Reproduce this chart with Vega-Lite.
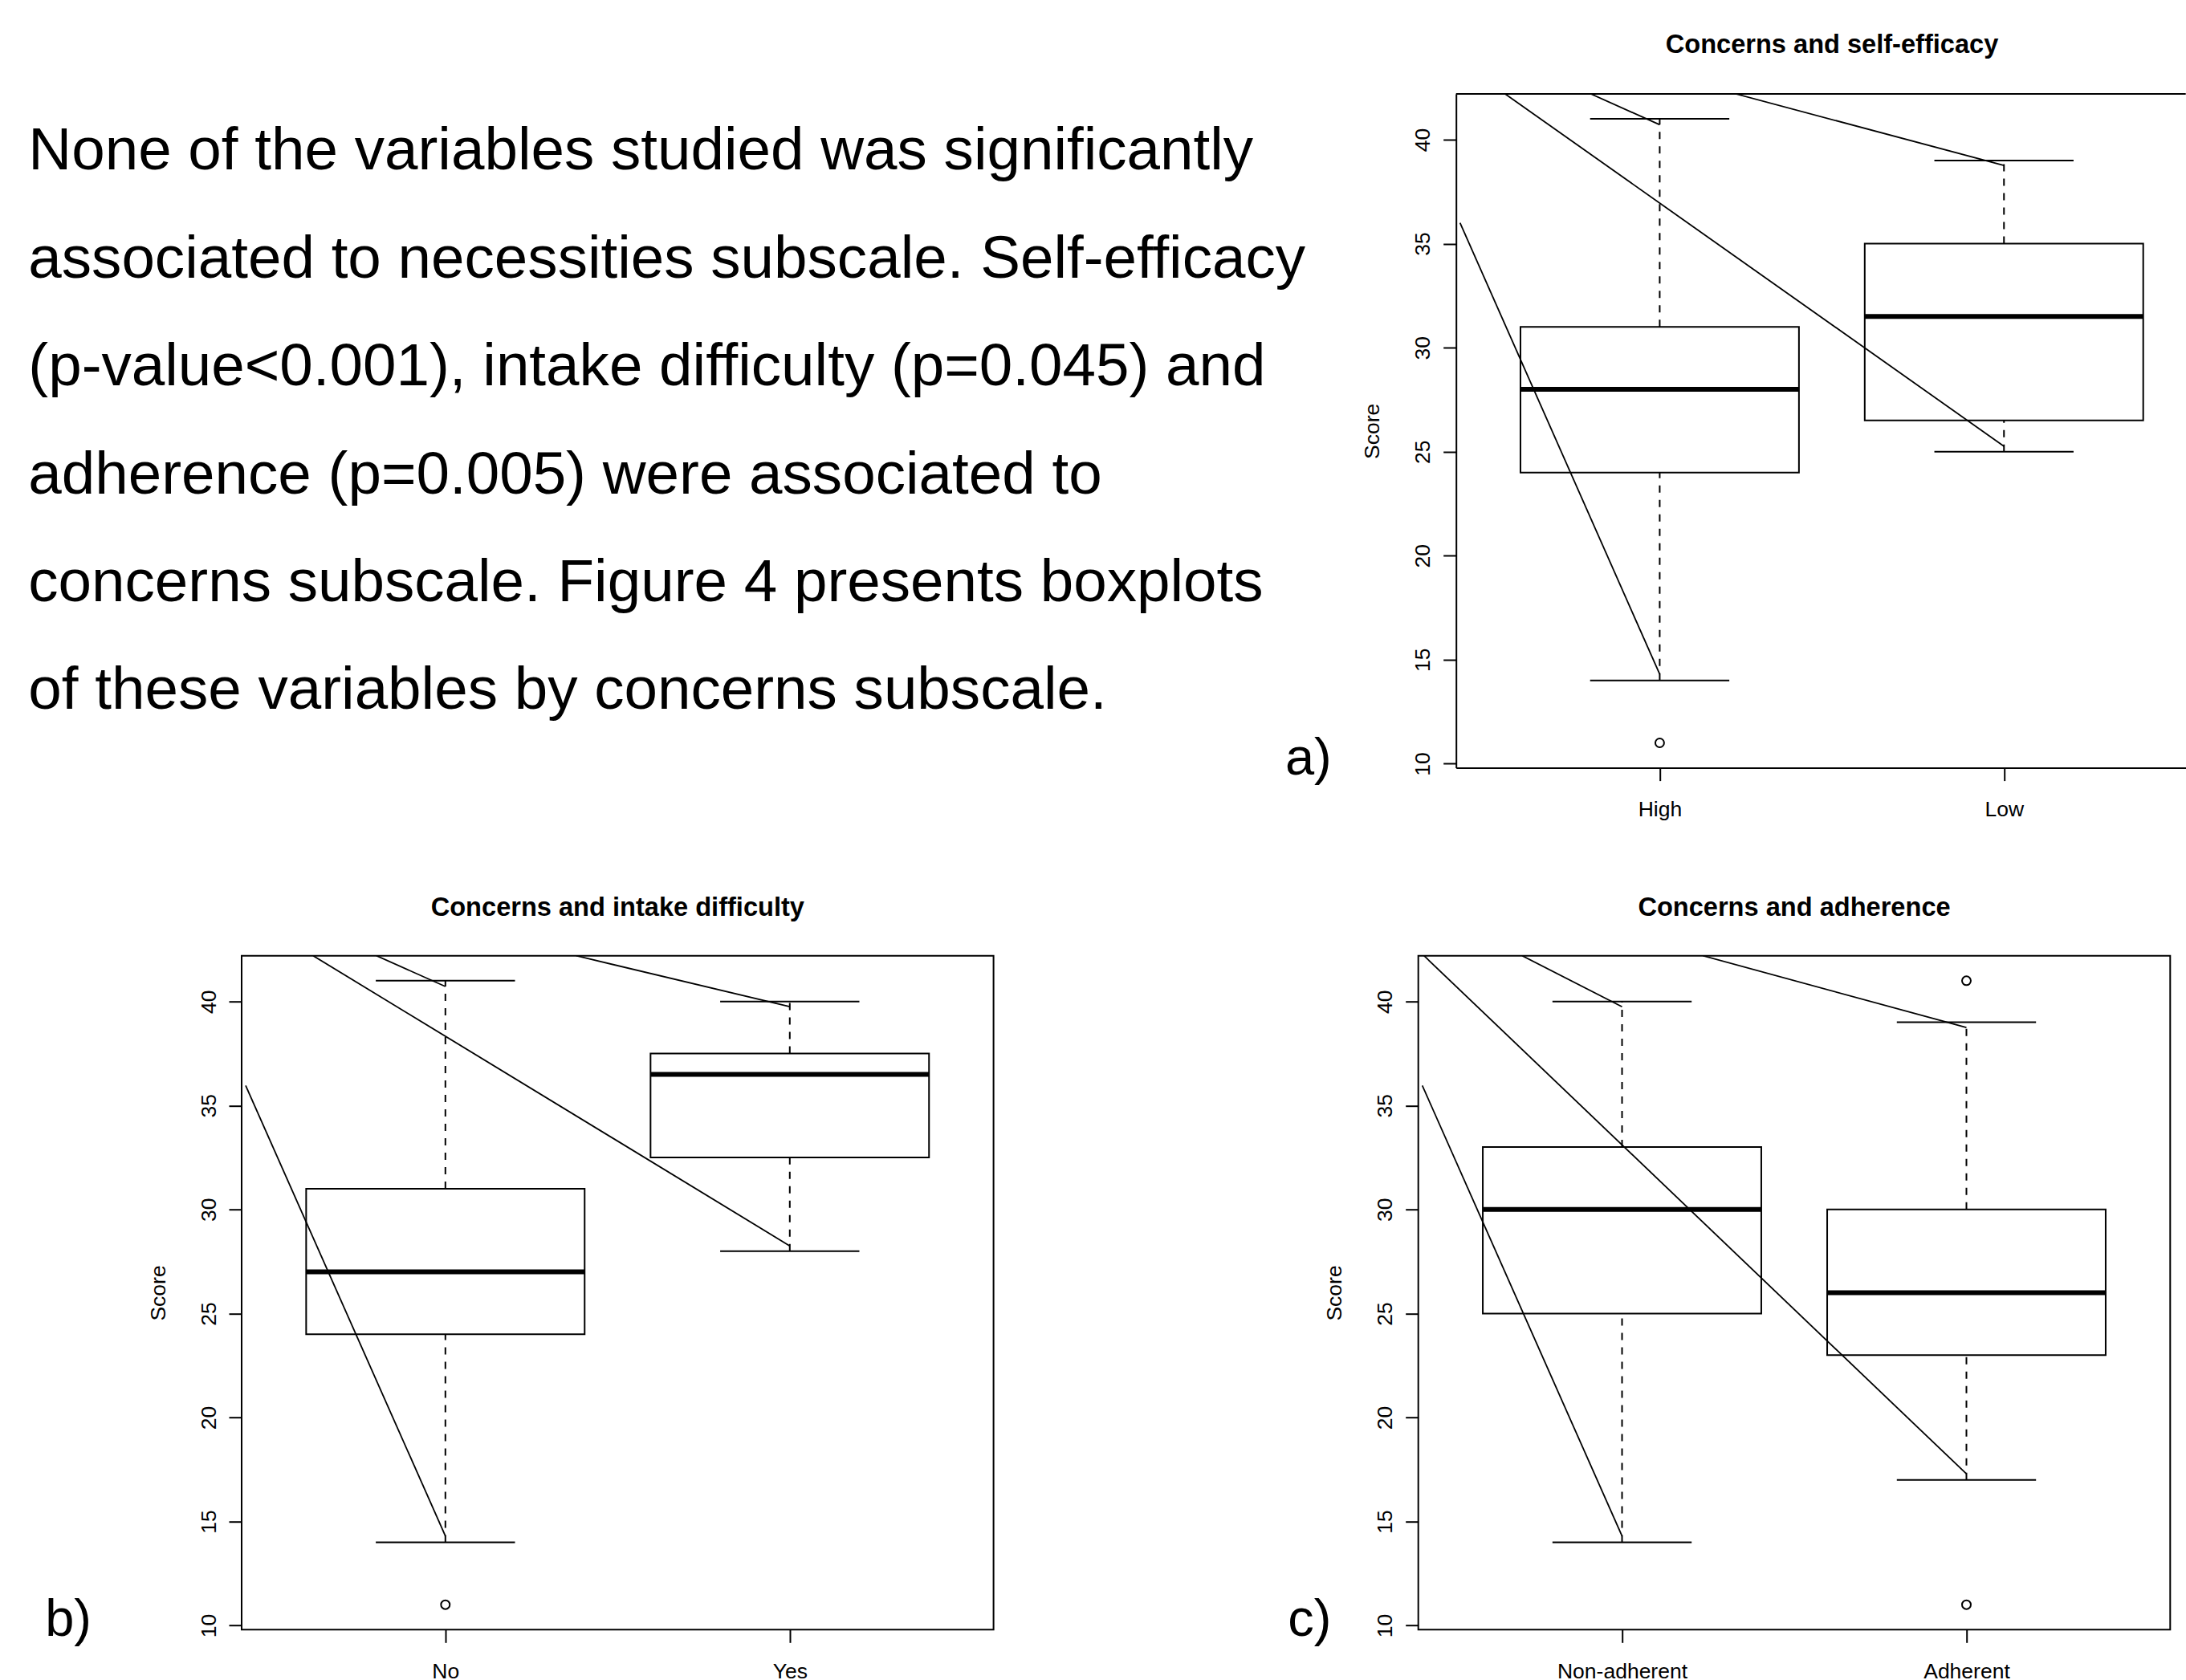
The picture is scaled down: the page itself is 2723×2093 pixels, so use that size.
{
  "$schema": "https://vega.github.io/schema/vega-lite/v6.json",
  "background": "white",
  "autosize": {"type": "pad"},
  "padding": {"left": 35, "top": 40, "right": 0, "bottom": 0},
  "config": {
    "font": "Liberation Sans",
    "view": {"stroke": "black", "strokeWidth": 2},
    "title": {"font": "Liberation Sans", "fontSize": 32.6, "fontWeight": "bold", "color": "black"},
    "axis": {
      "grid": false, "domain": false, "labelFont": "Liberation Sans", "labelFontSize": 26.5, "labelColor": "black",
      "tickColor": "black", "tickWidth": 2, "tickSize": 16, "labelFlush": false, "labelOverlap": false,
      "titleFont": "Liberation Sans", "titleFontSize": 26.5, "titleFontWeight": "normal", "titleColor": "black"
    },
    "axisX": {"labelBaseline": "alphabetic", "labelPadding": 44, "labelAngle": 0},
    "axisY": {"labelAngle": -90, "labelAlign": "center", "labelBaseline": "alphabetic", "labelPadding": 17, "titleBaseline": "alphabetic", "titleAngle": -90, "titlePadding": 42}
  },
  "datasets": {
    "text": [
      {"line": 1, "text": "None of the variables studied was significantly"},
      {"line": 2, "text": "associated to necessities subscale. Self-efficacy"},
      {"line": 3, "text": "(p-value<0.001), intake difficulty (p=0.045) and"},
      {"line": 4, "text": "adherence (p=0.005) were associated to"},
      {"line": 5, "text": "concerns subscale. Figure 4 presents boxplots"},
      {"line": 6, "text": "of these variables by concerns subscale."}
    ],
    "boxes": [
      {"panel": "a", "gx": 1, "lower": 14, "q1": 24, "median": 28, "q3": 31, "upper": 41},
      {"panel": "a", "gx": 2, "lower": 25, "q1": 26.5, "median": 31.5, "q3": 35, "upper": 39},
      {"panel": "b", "gx": 1, "lower": 14, "q1": 24, "median": 27, "q3": 31, "upper": 41},
      {"panel": "b", "gx": 2, "lower": 28, "q1": 32.5, "median": 36.5, "q3": 37.5, "upper": 40},
      {"panel": "c", "gx": 1, "lower": 14, "q1": 25, "median": 30, "q3": 33, "upper": 40},
      {"panel": "c", "gx": 2, "lower": 17, "q1": 23, "median": 26, "q3": 30, "upper": 39}
    ],
    "outliers": [
      {"panel": "a", "gx": 1, "score": 11},
      {"panel": "b", "gx": 1, "score": 11},
      {"panel": "c", "gx": 2, "score": 41},
      {"panel": "c", "gx": 2, "score": 11}
    ],
    "segments": [
      {"panel": "a", "seg": 1, "gx": 0.42, "score": 36.0},
      {"panel": "a", "seg": 1, "gx": 1, "score": 14.3},
      {"panel": "a", "seg": 2, "gx": 0.551, "score": 42.2},
      {"panel": "a", "seg": 2, "gx": 2, "score": 25.26},
      {"panel": "a", "seg": 3, "gx": 0.8, "score": 42.2},
      {"panel": "a", "seg": 3, "gx": 1, "score": 40.72},
      {"panel": "a", "seg": 4, "gx": 1.221, "score": 42.2},
      {"panel": "a", "seg": 4, "gx": 2, "score": 38.76},
      {"panel": "b", "seg": 1, "gx": 0.42, "score": 35.96},
      {"panel": "b", "seg": 1, "gx": 1, "score": 14.3},
      {"panel": "b", "seg": 2, "gx": 0.616, "score": 42.2},
      {"panel": "b", "seg": 2, "gx": 2, "score": 28.25},
      {"panel": "b", "seg": 3, "gx": 0.8, "score": 42.2},
      {"panel": "b", "seg": 3, "gx": 1, "score": 40.72},
      {"panel": "b", "seg": 4, "gx": 1.38, "score": 42.2},
      {"panel": "b", "seg": 4, "gx": 2, "score": 39.75},
      {"panel": "c", "seg": 1, "gx": 0.42, "score": 35.96},
      {"panel": "c", "seg": 1, "gx": 1, "score": 14.3},
      {"panel": "c", "seg": 2, "gx": 0.425, "score": 42.2},
      {"panel": "c", "seg": 2, "gx": 2, "score": 17.29},
      {"panel": "c", "seg": 3, "gx": 0.71, "score": 42.2},
      {"panel": "c", "seg": 3, "gx": 1, "score": 39.75},
      {"panel": "c", "seg": 4, "gx": 1.235, "score": 42.2},
      {"panel": "c", "seg": 4, "gx": 2, "score": 38.75}
    ]
  },
  "bounds": "flush",
  "spacing": 1073.7,
  "vconcat": [
    {
      "bounds": "flush",
      "spacing": 528.7,
      "hconcat": [
        {
          "width": 983.6, "height": 839.6,
          "view": {"stroke": null},
          "data": {"name": "text"},
          "mark": {"type": "text", "fontSize": 74.6, "align": "left", "baseline": "alphabetic", "color": "black", "font": "Liberation Sans"},
          "encoding": {
            "x": {"datum": 0, "type": "quantitative", "scale": {"domain": [0.16637, 0.78227], "nice": false, "zero": false}, "axis": null},
            "y": {"field": "line", "type": "quantitative", "scale": {"domain": [0.3011, 6.5435], "reverse": true, "nice": false, "zero": false}, "axis": null},
            "text": {"field": "text"}
          }
        },
        {
          "width": 909, "height": 839.6,
          "view": {"stroke": null},
          "title": {"text": "Concerns and self-efficacy", "frame": "group", "offset": 17, "baseline": "alphabetic", "dx": 13.8},
          "layer": [
            {"data": {"name": "boxes"}, "transform": [{"filter": "datum.panel == 'a'"}],
             "mark": {"type": "rule", "strokeDash": [9, 9], "strokeWidth": 2, "color": "black"},
             "encoding": {
               "x": {"field": "gx", "type": "quantitative", "scale": {"domain": [0.42, 2.5164], "nice": false, "zero": false}, "axis": {"values": [1, 2], "labelExpr": "datum.value == 1 ? 'High' : 'Low'", "title": null, "domain": true, "domainColor": "black", "domainWidth": 2}},
               "y": {"field": "lower", "type": "quantitative", "title": "Score", "scale": {"domain": [9.8, 42.2], "nice": false, "zero": false}, "axis": {"values": [10, 15, 20, 25, 30, 35, 40], "domain": true, "domainColor": "black", "domainWidth": 2}},
               "y2": {"field": "q1"}}},
            {"data": {"name": "boxes"}, "transform": [{"filter": "datum.panel == 'a'"}],
             "mark": {"type": "rule", "strokeDash": [9, 9], "strokeWidth": 2, "color": "black"},
             "encoding": {
               "x": {"field": "gx", "type": "quantitative", "scale": {"domain": [0.42, 2.5164], "nice": false, "zero": false}, "axis": {"values": [1, 2], "labelExpr": "datum.value == 1 ? 'High' : 'Low'", "title": null, "domain": true, "domainColor": "black", "domainWidth": 2}},
               "y": {"field": "q3", "type": "quantitative", "title": "Score", "scale": {"domain": [9.8, 42.2], "nice": false, "zero": false}, "axis": {"values": [10, 15, 20, 25, 30, 35, 40], "domain": true, "domainColor": "black", "domainWidth": 2}},
               "y2": {"field": "upper"}}},
            {"data": {"name": "boxes"}, "transform": [{"filter": "datum.panel == 'a'"}],
             "mark": {"type": "tick", "orient": "horizontal", "size": 173.4, "thickness": 2, "color": "black", "opacity": 1},
             "encoding": {
               "x": {"field": "gx", "type": "quantitative", "scale": {"domain": [0.42, 2.5164], "nice": false, "zero": false}, "axis": {"values": [1, 2], "labelExpr": "datum.value == 1 ? 'High' : 'Low'", "title": null, "domain": true, "domainColor": "black", "domainWidth": 2}},
               "y": {"field": "lower", "type": "quantitative", "title": "Score", "scale": {"domain": [9.8, 42.2], "nice": false, "zero": false}, "axis": {"values": [10, 15, 20, 25, 30, 35, 40], "domain": true, "domainColor": "black", "domainWidth": 2}}}},
            {"data": {"name": "boxes"}, "transform": [{"filter": "datum.panel == 'a'"}],
             "mark": {"type": "tick", "orient": "horizontal", "size": 173.4, "thickness": 2, "color": "black", "opacity": 1},
             "encoding": {
               "x": {"field": "gx", "type": "quantitative", "scale": {"domain": [0.42, 2.5164], "nice": false, "zero": false}, "axis": {"values": [1, 2], "labelExpr": "datum.value == 1 ? 'High' : 'Low'", "title": null, "domain": true, "domainColor": "black", "domainWidth": 2}},
               "y": {"field": "upper", "type": "quantitative", "title": "Score", "scale": {"domain": [9.8, 42.2], "nice": false, "zero": false}, "axis": {"values": [10, 15, 20, 25, 30, 35, 40], "domain": true, "domainColor": "black", "domainWidth": 2}}}},
            {"data": {"name": "boxes"}, "transform": [{"filter": "datum.panel == 'a'"}],
             "mark": {"type": "bar", "size": 346.9, "fill": "white", "stroke": "black", "strokeWidth": 2, "opacity": 1},
             "encoding": {
               "x": {"field": "gx", "type": "quantitative", "scale": {"domain": [0.42, 2.5164], "nice": false, "zero": false}, "axis": {"values": [1, 2], "labelExpr": "datum.value == 1 ? 'High' : 'Low'", "title": null, "domain": true, "domainColor": "black", "domainWidth": 2}},
               "y": {"field": "q1", "type": "quantitative", "title": "Score", "scale": {"domain": [9.8, 42.2], "nice": false, "zero": false}, "axis": {"values": [10, 15, 20, 25, 30, 35, 40], "domain": true, "domainColor": "black", "domainWidth": 2}},
               "y2": {"field": "q3"}}},
            {"data": {"name": "boxes"}, "transform": [{"filter": "datum.panel == 'a'"}],
             "mark": {"type": "tick", "orient": "horizontal", "size": 346.9, "thickness": 6, "color": "black", "opacity": 1},
             "encoding": {
               "x": {"field": "gx", "type": "quantitative", "scale": {"domain": [0.42, 2.5164], "nice": false, "zero": false}, "axis": {"values": [1, 2], "labelExpr": "datum.value == 1 ? 'High' : 'Low'", "title": null, "domain": true, "domainColor": "black", "domainWidth": 2}},
               "y": {"field": "median", "type": "quantitative", "title": "Score", "scale": {"domain": [9.8, 42.2], "nice": false, "zero": false}, "axis": {"values": [10, 15, 20, 25, 30, 35, 40], "domain": true, "domainColor": "black", "domainWidth": 2}}}},
            {"data": {"name": "outliers"}, "transform": [{"filter": "datum.panel == 'a'"}],
             "mark": {"type": "point", "shape": "circle", "filled": false, "size": 120, "stroke": "black", "strokeWidth": 2, "opacity": 1},
             "encoding": {
               "x": {"field": "gx", "type": "quantitative", "scale": {"domain": [0.42, 2.5164], "nice": false, "zero": false}, "axis": {"values": [1, 2], "labelExpr": "datum.value == 1 ? 'High' : 'Low'", "title": null, "domain": true, "domainColor": "black", "domainWidth": 2}},
               "y": {"field": "score", "type": "quantitative", "title": "Score", "scale": {"domain": [9.8, 42.2], "nice": false, "zero": false}, "axis": {"values": [10, 15, 20, 25, 30, 35, 40], "domain": true, "domainColor": "black", "domainWidth": 2}}}},
            {"data": {"name": "segments"}, "transform": [{"filter": "datum.panel == 'a'"}],
             "mark": {"type": "line", "clip": true, "strokeWidth": 1.8, "color": "black"},
             "encoding": {
               "x": {"field": "gx", "type": "quantitative", "scale": {"domain": [0.42, 2.5164], "nice": false, "zero": false}, "axis": {"values": [1, 2], "labelExpr": "datum.value == 1 ? 'High' : 'Low'", "title": null, "domain": true, "domainColor": "black", "domainWidth": 2}},
               "y": {"field": "score", "type": "quantitative", "title": "Score", "scale": {"domain": [9.8, 42.2], "nice": false, "zero": false}, "axis": {"values": [10, 15, 20, 25, 30, 35, 40], "domain": true, "domainColor": "black", "domainWidth": 2}},
               "detail": {"field": "seg"}}},
            {"data": {"values": [{"edge": "top"}]},
             "mark": {"type": "rule", "strokeWidth": 2, "color": "black"},
             "encoding": {
               "y": {"datum": 42.2, "type": "quantitative", "title": "Score", "scale": {"domain": [9.8, 42.2], "nice": false, "zero": false}, "axis": {"values": [10, 15, 20, 25, 30, 35, 40], "domain": true, "domainColor": "black", "domainWidth": 2}}}},
            {"data": {"values": [{"label": "a)"}]},
             "mark": {"type": "text", "fontSize": 65, "align": "center", "baseline": "alphabetic", "color": "black", "font": "Liberation Sans"},
             "encoding": {
               "x": {"datum": -0.0205, "type": "quantitative", "scale": {"domain": [0.42, 2.5164], "nice": false, "zero": false}, "axis": {"values": [1, 2], "labelExpr": "datum.value == 1 ? 'High' : 'Low'", "title": null, "domain": true, "domainColor": "black", "domainWidth": 2}},
               "y": {"datum": 9.49, "type": "quantitative", "title": "Score", "scale": {"domain": [9.8, 42.2], "nice": false, "zero": false}, "axis": {"values": [10, 15, 20, 25, 30, 35, 40], "domain": true, "domainColor": "black", "domainWidth": 2}},
               "text": {"field": "label"}}}
          ]
        }
      ]
    },
    {
      "bounds": "flush",
      "spacing": 528.7,
      "hconcat": [
        {
          "width": 936.6, "height": 839.6,
          "title": {"text": "Concerns and intake difficulty", "frame": "group", "offset": 17, "baseline": "alphabetic"},
          "layer": [
            {"data": {"name": "boxes"}, "transform": [{"filter": "datum.panel == 'b'"}],
             "mark": {"type": "rule", "strokeDash": [9, 9], "strokeWidth": 2, "color": "black"},
             "encoding": {
               "x": {"field": "gx", "type": "quantitative", "scale": {"domain": [0.42, 2.58], "nice": false, "zero": false}, "axis": {"values": [1, 2], "labelExpr": "datum.value == 1 ? 'No' : 'Yes'", "title": null}},
               "y": {"field": "lower", "type": "quantitative", "title": "Score", "scale": {"domain": [9.8, 42.2], "nice": false, "zero": false}, "axis": {"values": [10, 15, 20, 25, 30, 35, 40]}},
               "y2": {"field": "q1"}}},
            {"data": {"name": "boxes"}, "transform": [{"filter": "datum.panel == 'b'"}],
             "mark": {"type": "rule", "strokeDash": [9, 9], "strokeWidth": 2, "color": "black"},
             "encoding": {
               "x": {"field": "gx", "type": "quantitative", "scale": {"domain": [0.42, 2.58], "nice": false, "zero": false}, "axis": {"values": [1, 2], "labelExpr": "datum.value == 1 ? 'No' : 'Yes'", "title": null}},
               "y": {"field": "q3", "type": "quantitative", "title": "Score", "scale": {"domain": [9.8, 42.2], "nice": false, "zero": false}, "axis": {"values": [10, 15, 20, 25, 30, 35, 40]}},
               "y2": {"field": "upper"}}},
            {"data": {"name": "boxes"}, "transform": [{"filter": "datum.panel == 'b'"}],
             "mark": {"type": "tick", "orient": "horizontal", "size": 173.4, "thickness": 2, "color": "black", "opacity": 1},
             "encoding": {
               "x": {"field": "gx", "type": "quantitative", "scale": {"domain": [0.42, 2.58], "nice": false, "zero": false}, "axis": {"values": [1, 2], "labelExpr": "datum.value == 1 ? 'No' : 'Yes'", "title": null}},
               "y": {"field": "lower", "type": "quantitative", "title": "Score", "scale": {"domain": [9.8, 42.2], "nice": false, "zero": false}, "axis": {"values": [10, 15, 20, 25, 30, 35, 40]}}}},
            {"data": {"name": "boxes"}, "transform": [{"filter": "datum.panel == 'b'"}],
             "mark": {"type": "tick", "orient": "horizontal", "size": 173.4, "thickness": 2, "color": "black", "opacity": 1},
             "encoding": {
               "x": {"field": "gx", "type": "quantitative", "scale": {"domain": [0.42, 2.58], "nice": false, "zero": false}, "axis": {"values": [1, 2], "labelExpr": "datum.value == 1 ? 'No' : 'Yes'", "title": null}},
               "y": {"field": "upper", "type": "quantitative", "title": "Score", "scale": {"domain": [9.8, 42.2], "nice": false, "zero": false}, "axis": {"values": [10, 15, 20, 25, 30, 35, 40]}}}},
            {"data": {"name": "boxes"}, "transform": [{"filter": "datum.panel == 'b'"}],
             "mark": {"type": "bar", "size": 346.9, "fill": "white", "stroke": "black", "strokeWidth": 2, "opacity": 1},
             "encoding": {
               "x": {"field": "gx", "type": "quantitative", "scale": {"domain": [0.42, 2.58], "nice": false, "zero": false}, "axis": {"values": [1, 2], "labelExpr": "datum.value == 1 ? 'No' : 'Yes'", "title": null}},
               "y": {"field": "q1", "type": "quantitative", "title": "Score", "scale": {"domain": [9.8, 42.2], "nice": false, "zero": false}, "axis": {"values": [10, 15, 20, 25, 30, 35, 40]}},
               "y2": {"field": "q3"}}},
            {"data": {"name": "boxes"}, "transform": [{"filter": "datum.panel == 'b'"}],
             "mark": {"type": "tick", "orient": "horizontal", "size": 346.9, "thickness": 6, "color": "black", "opacity": 1},
             "encoding": {
               "x": {"field": "gx", "type": "quantitative", "scale": {"domain": [0.42, 2.58], "nice": false, "zero": false}, "axis": {"values": [1, 2], "labelExpr": "datum.value == 1 ? 'No' : 'Yes'", "title": null}},
               "y": {"field": "median", "type": "quantitative", "title": "Score", "scale": {"domain": [9.8, 42.2], "nice": false, "zero": false}, "axis": {"values": [10, 15, 20, 25, 30, 35, 40]}}}},
            {"data": {"name": "outliers"}, "transform": [{"filter": "datum.panel == 'b'"}],
             "mark": {"type": "point", "shape": "circle", "filled": false, "size": 120, "stroke": "black", "strokeWidth": 2, "opacity": 1},
             "encoding": {
               "x": {"field": "gx", "type": "quantitative", "scale": {"domain": [0.42, 2.58], "nice": false, "zero": false}, "axis": {"values": [1, 2], "labelExpr": "datum.value == 1 ? 'No' : 'Yes'", "title": null}},
               "y": {"field": "score", "type": "quantitative", "title": "Score", "scale": {"domain": [9.8, 42.2], "nice": false, "zero": false}, "axis": {"values": [10, 15, 20, 25, 30, 35, 40]}}}},
            {"data": {"name": "segments"}, "transform": [{"filter": "datum.panel == 'b'"}],
             "mark": {"type": "line", "clip": true, "strokeWidth": 1.8, "color": "black"},
             "encoding": {
               "x": {"field": "gx", "type": "quantitative", "scale": {"domain": [0.42, 2.58], "nice": false, "zero": false}, "axis": {"values": [1, 2], "labelExpr": "datum.value == 1 ? 'No' : 'Yes'", "title": null}},
               "y": {"field": "score", "type": "quantitative", "title": "Score", "scale": {"domain": [9.8, 42.2], "nice": false, "zero": false}, "axis": {"values": [10, 15, 20, 25, 30, 35, 40]}},
               "detail": {"field": "seg"}}},
            {"data": {"values": [{"label": "b)"}]},
             "mark": {"type": "text", "fontSize": 65, "align": "center", "baseline": "alphabetic", "color": "black", "font": "Liberation Sans"},
             "encoding": {
               "x": {"datum": -0.095, "type": "quantitative", "scale": {"domain": [0.42, 2.58], "nice": false, "zero": false}, "axis": {"values": [1, 2], "labelExpr": "datum.value == 1 ? 'No' : 'Yes'", "title": null}},
               "y": {"datum": 9.5, "type": "quantitative", "title": "Score", "scale": {"domain": [9.8, 42.2], "nice": false, "zero": false}, "axis": {"values": [10, 15, 20, 25, 30, 35, 40]}},
               "text": {"field": "label"}}}
          ]
        },
        {
          "width": 936.6, "height": 839.6,
          "title": {"text": "Concerns and adherence", "frame": "group", "offset": 17, "baseline": "alphabetic"},
          "layer": [
            {"data": {"name": "boxes"}, "transform": [{"filter": "datum.panel == 'c'"}],
             "mark": {"type": "rule", "strokeDash": [9, 9], "strokeWidth": 2, "color": "black"},
             "encoding": {
               "x": {"field": "gx", "type": "quantitative", "scale": {"domain": [0.42, 2.58], "nice": false, "zero": false}, "axis": {"values": [1, 2], "labelExpr": "datum.value == 1 ? 'Non-adherent' : 'Adherent'", "title": null}},
               "y": {"field": "lower", "type": "quantitative", "title": "Score", "scale": {"domain": [9.8, 42.2], "nice": false, "zero": false}, "axis": {"values": [10, 15, 20, 25, 30, 35, 40]}},
               "y2": {"field": "q1"}}},
            {"data": {"name": "boxes"}, "transform": [{"filter": "datum.panel == 'c'"}],
             "mark": {"type": "rule", "strokeDash": [9, 9], "strokeWidth": 2, "color": "black"},
             "encoding": {
               "x": {"field": "gx", "type": "quantitative", "scale": {"domain": [0.42, 2.58], "nice": false, "zero": false}, "axis": {"values": [1, 2], "labelExpr": "datum.value == 1 ? 'Non-adherent' : 'Adherent'", "title": null}},
               "y": {"field": "q3", "type": "quantitative", "title": "Score", "scale": {"domain": [9.8, 42.2], "nice": false, "zero": false}, "axis": {"values": [10, 15, 20, 25, 30, 35, 40]}},
               "y2": {"field": "upper"}}},
            {"data": {"name": "boxes"}, "transform": [{"filter": "datum.panel == 'c'"}],
             "mark": {"type": "tick", "orient": "horizontal", "size": 173.4, "thickness": 2, "color": "black", "opacity": 1},
             "encoding": {
               "x": {"field": "gx", "type": "quantitative", "scale": {"domain": [0.42, 2.58], "nice": false, "zero": false}, "axis": {"values": [1, 2], "labelExpr": "datum.value == 1 ? 'Non-adherent' : 'Adherent'", "title": null}},
               "y": {"field": "lower", "type": "quantitative", "title": "Score", "scale": {"domain": [9.8, 42.2], "nice": false, "zero": false}, "axis": {"values": [10, 15, 20, 25, 30, 35, 40]}}}},
            {"data": {"name": "boxes"}, "transform": [{"filter": "datum.panel == 'c'"}],
             "mark": {"type": "tick", "orient": "horizontal", "size": 173.4, "thickness": 2, "color": "black", "opacity": 1},
             "encoding": {
               "x": {"field": "gx", "type": "quantitative", "scale": {"domain": [0.42, 2.58], "nice": false, "zero": false}, "axis": {"values": [1, 2], "labelExpr": "datum.value == 1 ? 'Non-adherent' : 'Adherent'", "title": null}},
               "y": {"field": "upper", "type": "quantitative", "title": "Score", "scale": {"domain": [9.8, 42.2], "nice": false, "zero": false}, "axis": {"values": [10, 15, 20, 25, 30, 35, 40]}}}},
            {"data": {"name": "boxes"}, "transform": [{"filter": "datum.panel == 'c'"}],
             "mark": {"type": "bar", "size": 346.9, "fill": "white", "stroke": "black", "strokeWidth": 2, "opacity": 1},
             "encoding": {
               "x": {"field": "gx", "type": "quantitative", "scale": {"domain": [0.42, 2.58], "nice": false, "zero": false}, "axis": {"values": [1, 2], "labelExpr": "datum.value == 1 ? 'Non-adherent' : 'Adherent'", "title": null}},
               "y": {"field": "q1", "type": "quantitative", "title": "Score", "scale": {"domain": [9.8, 42.2], "nice": false, "zero": false}, "axis": {"values": [10, 15, 20, 25, 30, 35, 40]}},
               "y2": {"field": "q3"}}},
            {"data": {"name": "boxes"}, "transform": [{"filter": "datum.panel == 'c'"}],
             "mark": {"type": "tick", "orient": "horizontal", "size": 346.9, "thickness": 6, "color": "black", "opacity": 1},
             "encoding": {
               "x": {"field": "gx", "type": "quantitative", "scale": {"domain": [0.42, 2.58], "nice": false, "zero": false}, "axis": {"values": [1, 2], "labelExpr": "datum.value == 1 ? 'Non-adherent' : 'Adherent'", "title": null}},
               "y": {"field": "median", "type": "quantitative", "title": "Score", "scale": {"domain": [9.8, 42.2], "nice": false, "zero": false}, "axis": {"values": [10, 15, 20, 25, 30, 35, 40]}}}},
            {"data": {"name": "outliers"}, "transform": [{"filter": "datum.panel == 'c'"}],
             "mark": {"type": "point", "shape": "circle", "filled": false, "size": 120, "stroke": "black", "strokeWidth": 2, "opacity": 1},
             "encoding": {
               "x": {"field": "gx", "type": "quantitative", "scale": {"domain": [0.42, 2.58], "nice": false, "zero": false}, "axis": {"values": [1, 2], "labelExpr": "datum.value == 1 ? 'Non-adherent' : 'Adherent'", "title": null}},
               "y": {"field": "score", "type": "quantitative", "title": "Score", "scale": {"domain": [9.8, 42.2], "nice": false, "zero": false}, "axis": {"values": [10, 15, 20, 25, 30, 35, 40]}}}},
            {"data": {"name": "segments"}, "transform": [{"filter": "datum.panel == 'c'"}],
             "mark": {"type": "line", "clip": true, "strokeWidth": 1.8, "color": "black"},
             "encoding": {
               "x": {"field": "gx", "type": "quantitative", "scale": {"domain": [0.42, 2.58], "nice": false, "zero": false}, "axis": {"values": [1, 2], "labelExpr": "datum.value == 1 ? 'Non-adherent' : 'Adherent'", "title": null}},
               "y": {"field": "score", "type": "quantitative", "title": "Score", "scale": {"domain": [9.8, 42.2], "nice": false, "zero": false}, "axis": {"values": [10, 15, 20, 25, 30, 35, 40]}},
               "detail": {"field": "seg"}}},
            {"data": {"values": [{"label": "c)"}]},
             "mark": {"type": "text", "fontSize": 65, "align": "center", "baseline": "alphabetic", "color": "black", "font": "Liberation Sans"},
             "encoding": {
               "x": {"datum": 0.0925, "type": "quantitative", "scale": {"domain": [0.42, 2.58], "nice": false, "zero": false}, "axis": {"values": [1, 2], "labelExpr": "datum.value == 1 ? 'Non-adherent' : 'Adherent'", "title": null}},
               "y": {"datum": 9.5, "type": "quantitative", "title": "Score", "scale": {"domain": [9.8, 42.2], "nice": false, "zero": false}, "axis": {"values": [10, 15, 20, 25, 30, 35, 40]}},
               "text": {"field": "label"}}}
          ]
        }
      ]
    }
  ]
}
